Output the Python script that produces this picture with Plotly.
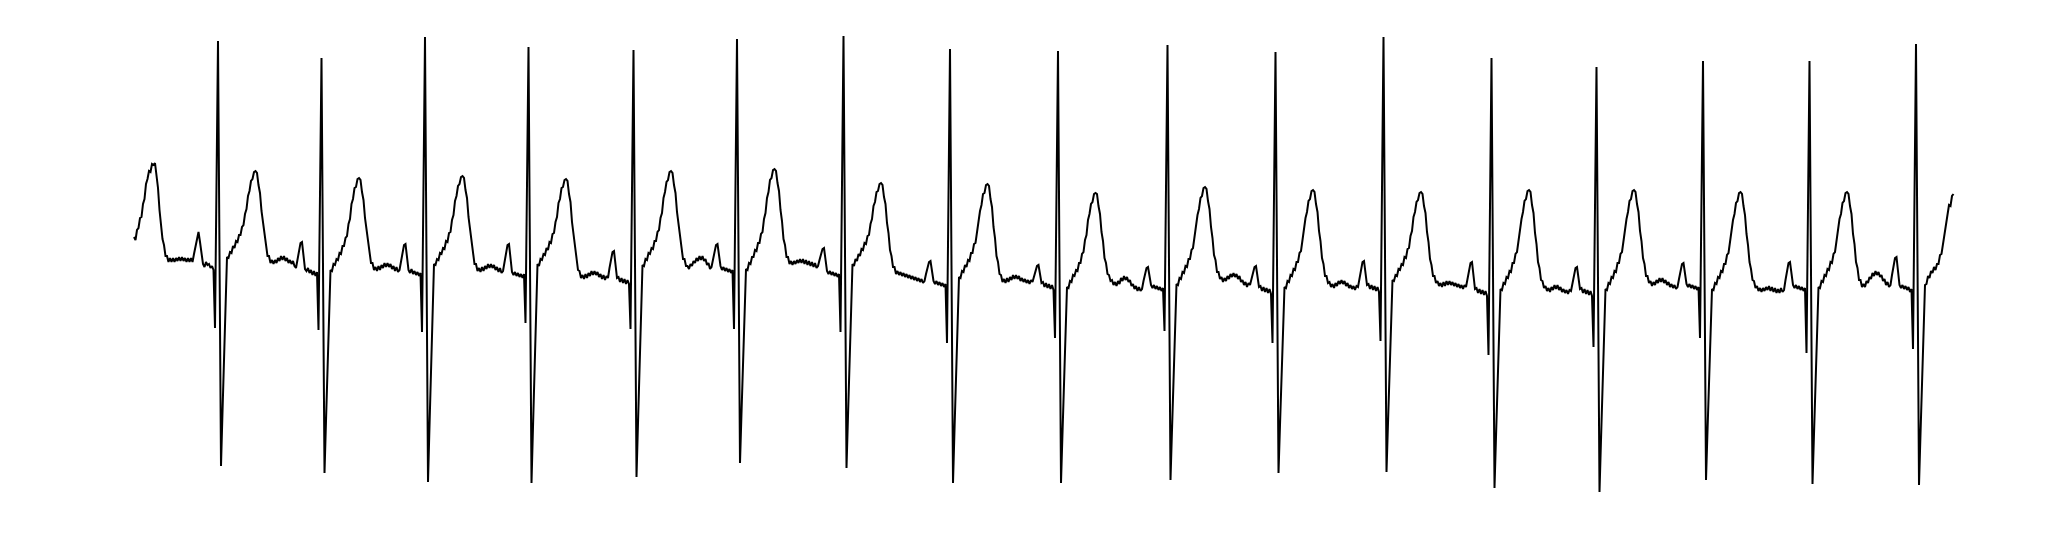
import numpy as np
import plotly.graph_objects as go

# ECG trace, sampled at 120 Hz; amplitudes in hundredths of a millivolt (0.01 mV)
FS = 120

lead_in = [33, 30, 40, 42, 52, 53, 66, 71, 86, 91, 99, 98, 106, 105, 107, 93, 82, 60, 47, 31,
           25, 14, 14, 8, 12, 8, 12, 8, 12, 9, 13, 9, 13, 9, 12, 8, 12, 8, 12, 8,
           16, 23, 33, 38, 28, 15, 6, 3, 8, 5, 6, 2, 4, 0, -58, 86]

beat_01 = [229, 16, -196, -142, -87, -33,
           13, 12, 18, 17, 24, 22, 29, 28, 35, 35, 43, 45, 56, 61, 74, 79, 89, 91, 98, 99,
           97, 85, 77, 59, 48, 32, 25, 14, 14, 7,
           10, 6, 10, 7, 12, 9, 14, 10, 14, 9, 12, 7, 10, 6, 9, 4,
           2, 11, 20, 27, 28, 12, 1,
           -1, 2, -3, 0, -5, -1, -6, -2,
           -60, 76]

beat_02 = [212, 4, -203, -151, -97, -45,
           0, -1, 6, 5, 11, 10, 17, 16, 24, 24, 32, 34, 46, 51, 66, 71, 82, 83, 91, 92,
           90, 78, 70, 52, 41, 25, 19, 7, 7, 0,
           3, -1, 4, 0, 5, 2, 7, 3, 7, 3, 6, 1, 4, -1, 3, -2,
           0, 9, 18, 25, 26, 10, 0,
           -3, 1, -4, -1, -5, -2, -6, -3,
           -62, 86]

beat_03 = [233, 11, -212, -156, -98, -42,
           6, 5, 11, 10, 17, 16, 22, 21, 29, 28, 37, 38, 50, 55, 69, 74, 84, 86, 93, 94,
           92, 80, 72, 53, 41, 24, 18, 6, 6, -1,
           2, -2, 3, -1, 4, 1, 6, 2, 6, 2, 5, 0, 3, -2, 2, -3,
           -1, 8, 18, 25, 26, 9, -2,
           -5, -2, -6, -3, -7, -4, -8, -4,
           -53, 85]

beat_04 = [223, 5, -213, -157, -99, -42,
           6, 4, 11, 10, 16, 15, 22, 20, 28, 27, 36, 37, 48, 53, 67, 71, 82, 83, 90, 91,
           89, 76, 68, 48, 36, 18, 12, 0, -1, -8,
           -5, -9, -4, -8, -3, -6, -1, -5, -1, -5, -2, -7, -4, -9, -5, -10, -6,
           -8, 2, 11, 18, 19, 2, -8,
           -7, -12, -8, -13, -9, -14, -10, -14,
           -59, 80]

beat_05 = [220, 7, -207, -153, -96, -42,
           5, 4, 11, 10, 17, 16, 22, 21, 29, 29, 38, 40, 52, 57, 72, 78, 88, 90, 98, 99,
           97, 85, 77, 58, 46, 29, 23, 11, 11, 4,
           4, 1, 6, 4, 9, 7, 12, 9, 14, 10, 14, 9, 11, 5, 7, 1,
           3, 11, 19, 25, 26, 12, 4,
           0, 3, -1, 2, -2, 1, -3, 0,
           -59, 86]

beat_06 = [231, 19, -193, -143, -92, -42,
           1, 0, 7, 6, 13, 13, 20, 19, 27, 27, 36, 38, 51, 57, 72, 78, 90, 92, 100, 101,
           99, 87, 79, 60, 49, 31, 25, 13, 13, 6,
           9, 5, 9, 6, 10, 7, 11, 7, 11, 6, 10, 5, 9, 4, 8, 3, 7, 2,
           4, 10, 17, 21, 22, 8, -1,
           -4, -1, -5, -2, -6, -3, -7, -4,
           -62, 86]

beat_07 = [234, 18, -198, -146, -92, -39,
           6, 4, 11, 9, 16, 14, 21, 20, 27, 26, 34, 35, 46, 51, 64, 68, 78, 79, 86, 87,
           85, 73, 66, 47, 37, 20, 14, 3, 3, -4,
           -1, -5, -2, -6, -3, -7, -4, -8, -5, -9, -6, -10, -7, -11, -8, -12, -9, -13,
           -11, -4, 3, 8, 9, -4, -11,
           -14, -11, -15, -12, -16, -13, -17, -14,
           -73, 74]

beat_08 = [221, 4, -213, -160, -105, -53,
           -7, -8, -1, -2, 5, 3, 10, 9, 17, 17, 26, 27, 39, 45, 59, 65, 76, 77, 85, 86,
           84, 71, 63, 43, 32, 14, 8, -4, -5, -12,
           -9, -13, -8, -12, -7, -10, -5, -9, -5, -9, -6, -11, -8, -12, -9, -13, -10, -14, -10,
           -12, -6, 0, 4, 5, -7, -13,
           -12, -17, -13, -18, -14, -19, -15, -20,
           -68, 76]

beat_09 = [219, 3, -213, -163, -111, -60,
           -17, -18, -11, -12, -5, -6, 0, -1, 7, 7, 16, 18, 30, 35, 50, 56, 66, 68, 76, 77,
           76, 64, 56, 38, 29, 12, 7, -4, -5, -11,
           -10, -15, -12, -16, -11, -14, -8, -11, -6, -10, -7, -12, -10, -16, -14, -19, -16, -21, -17, -21,
           -19, -11, -4, 2, 3, -9, -15,
           -18, -15, -19, -16, -20, -17, -21, -18,
           -61, 82]

beat_10 = [225, 8, -210, -160, -108, -58,
           -14, -15, -8, -9, -2, -3, 4, 3, 11, 11, 20, 22, 34, 40, 55, 61, 72, 74, 82, 83,
           81, 69, 61, 43, 32, 15, 10, -2, -2, -9,
           -7, -12, -8, -11, -6, -9, -4, -7, -3, -7, -4, -9, -6, -12, -10, -15, -12, -17, -13,
           -15, -8, -2, 3, 4, -9, -17,
           -16, -21, -17, -22, -18, -23, -19, -24,
           -73, 72]

beat_11 = [218, 8, -203, -155, -106, -58,
           -17, -18, -11, -12, -5, -6, 1, 0, 8, 8, 17, 19, 31, 37, 52, 58, 69, 71, 79, 80,
           78, 66, 58, 39, 29, 12, 6, -6, -6, -13,
           -12, -17, -14, -18, -13, -16, -11, -14, -10, -14, -11, -16, -13, -18, -15, -19, -16, -20, -16,
           -17, -8, 1, 8, 9, -6, -15,
           -14, -19, -15, -20, -16, -21, -17, -22,
           -71, 81]

beat_12 = [233, 16, -202, -153, -102, -53,
           -10, -11, -5, -6, 1, 0, 6, 5, 13, 12, 21, 22, 34, 39, 53, 58, 68, 70, 77, 78,
           76, 64, 57, 38, 28, 11, 5, -6, -6, -13,
           -11, -16, -13, -17, -12, -16, -11, -15, -11, -15, -12, -16, -13, -17, -14, -18, -15, -19, -15,
           -17, -8, 0, 7, 8, -8, -19,
           -18, -23, -19, -24, -20, -25, -21, -26,
           -85, 64]

beat_13 = [212, -3, -218, -167, -114, -63,
           -19, -20, -13, -14, -7, -8, -1, -2, 7, 7, 16, 18, 30, 36, 51, 58, 69, 71, 79, 80,
           78, 65, 57, 37, 26, 8, 2, -10, -11, -18,
           -16, -21, -18, -22, -17, -20, -15, -19, -15, -20, -17, -22, -19, -23, -20, -24, -20,
           -21, -13, -4, 2, 3, -11, -19,
           -18, -23, -19, -24, -20, -25, -21, -26,
           -77, 63]

beat_14 = [203, -10, -222, -170, -116, -64,
           -19, -20, -13, -14, -7, -8, -1, -2, 7, 7, 16, 18, 30, 36, 51, 58, 69, 71, 79, 80,
           78, 66, 58, 39, 29, 12, 6, -6, -6, -13,
           -11, -16, -12, -15, -10, -13, -8, -12, -8, -13, -10, -15, -12, -17, -14, -18, -15, -19,
           -17, -9, 0, 6, 7, -6, -14,
           -17, -14, -18, -15, -19, -16, -20, -17,
           -68, 70]

beat_15 = [209, 0, -210, -161, -110, -62,
           -19, -20, -13, -14, -7, -8, -1, -2, 6, 6, 15, 17, 29, 35, 50, 56, 67, 69, 77, 78,
           76, 64, 55, 36, 25, 8, 1, -10, -11, -18,
           -16, -21, -18, -22, -18, -21, -17, -20, -16, -21, -17, -22, -18, -23, -19, -23, -18, -22,
           -20, -10, 0, 7, 8, -6, -15,
           -18, -15, -19, -16, -20, -17, -21, -18,
           -83, 72]

beat_16 = [209, -2, -214, -164, -111, -61,
           -17, -18, -11, -12, -5, -6, 1, 0, 8, 7, 16, 18, 30, 36, 51, 56, 67, 69, 77, 78,
           76, 64, 56, 36, 26, 8, 2, -10, -10, -17,
           -14, -17, -11, -13, -7, -9, -3, -6, -1, -5, -2, -7, -5, -11, -9, -15, -12, -17,
           -15, -5, 5, 12, 13, -4, -15,
           -18, -15, -19, -16, -20, -17, -22, -19,
           -79, 74]

beat_17 = [226, 6, -215, -164, -110, -59,
           -15, -14, -6, -8, -1, -3, 3, 0, 6, 6, 15, 16, 26, 35, 50, 55, 65, 64, 74, 76]

segments = [lead_in, beat_01, beat_02, beat_03, beat_04, beat_05, beat_06, beat_07, beat_08,
            beat_09, beat_10, beat_11, beat_12, beat_13, beat_14, beat_15, beat_16, beat_17]

centi_mv = np.concatenate([np.asarray(s, dtype=float) for s in segments])
mv = centi_mv / 100.0
t = np.arange(len(mv)) / FS

# The page body has an 8 px margin, so the figure is shifted by 8 px; the axis
# ranges compensate so that the trace lands where it sits in the reference.
W, H = 2030, 522
OFF = 8
PX_PER_S = 180.0      # horizontal scale
PX_PER_MV = 100.0     # vertical scale
X0_PX, Y0_PX = 134.0, 270.0   # page position of t=0 and of 0 mV

x_range = [(OFF - X0_PX) / PX_PER_S, (OFF + W - X0_PX) / PX_PER_S]
y_range = [(Y0_PX - OFF - H) / PX_PER_MV, (Y0_PX - OFF) / PX_PER_MV]

fig = go.Figure(
    go.Scatter(x=t, y=mv, mode="lines",
               line=dict(color="black", width=2),
               hoverinfo="skip")
)

fig.update_layout(
    width=W, height=H, autosize=False,
    margin=dict(l=0, r=0, t=0, b=0, pad=0),
    paper_bgcolor="white", plot_bgcolor="white",
    showlegend=False,
    xaxis=dict(visible=False, range=x_range, fixedrange=True),
    yaxis=dict(visible=False, range=y_range, fixedrange=True),
)

fig.write_html("out.html")
